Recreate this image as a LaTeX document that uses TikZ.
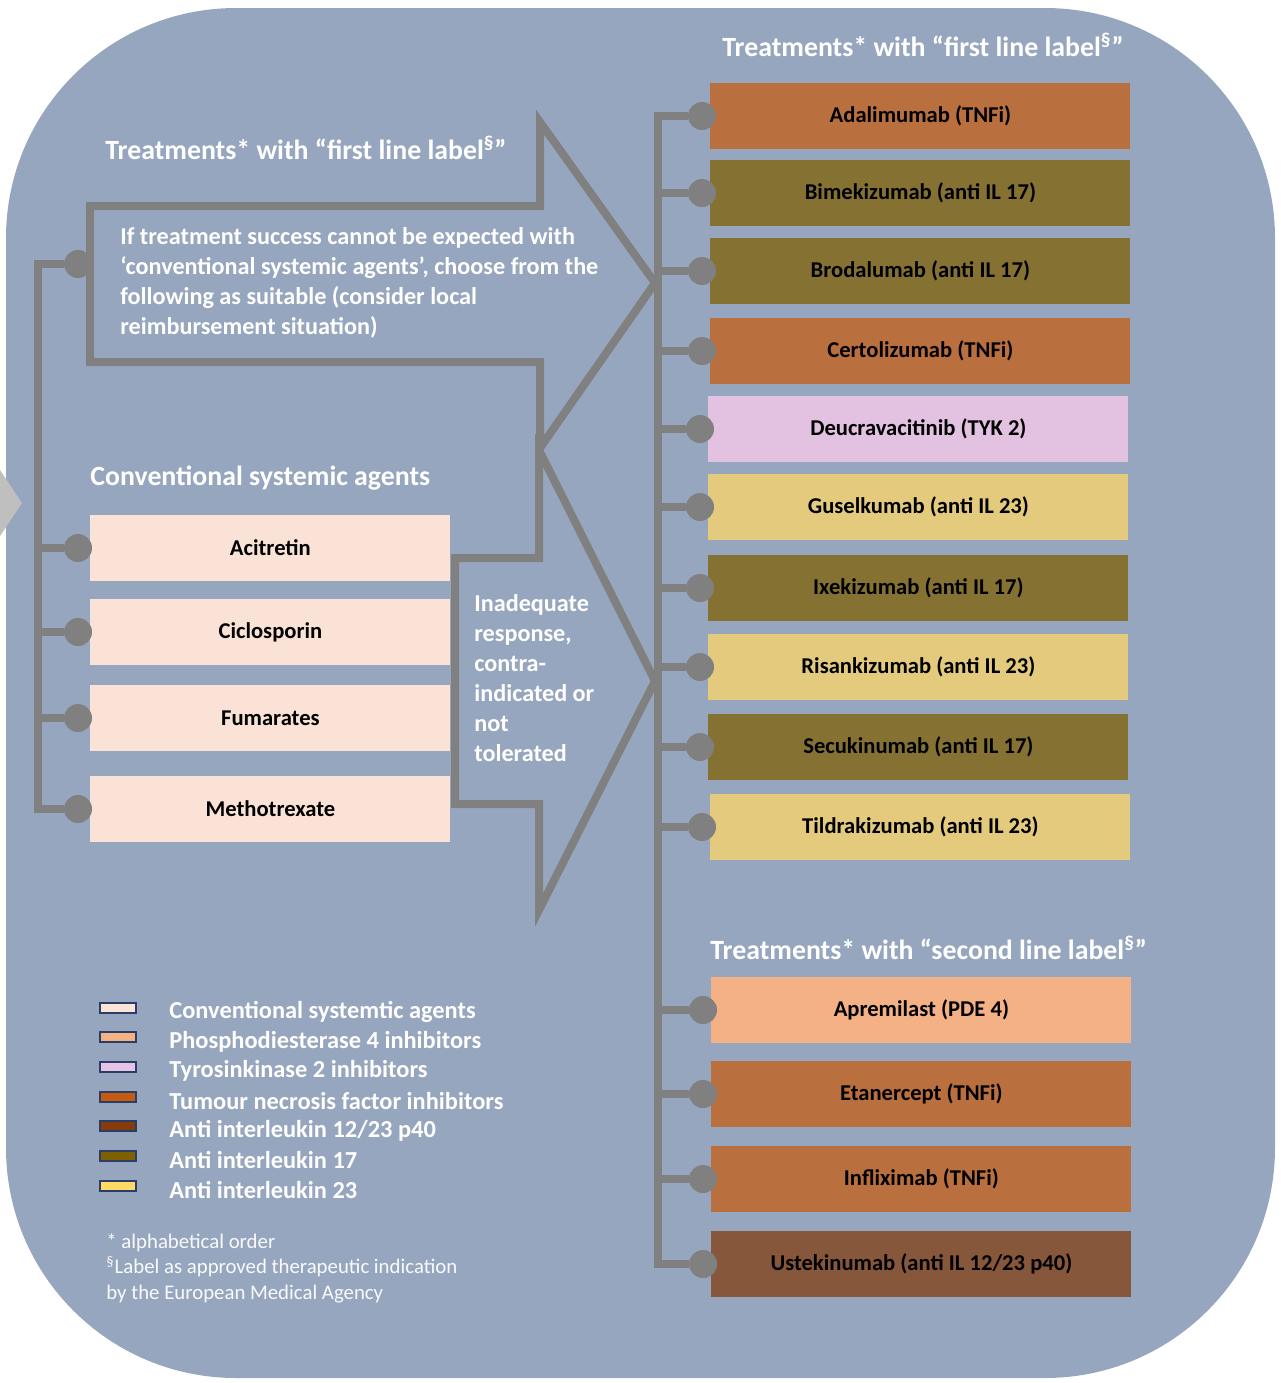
\documentclass[tikz,border=0pt]{standalone}
\usepackage{fontspec}
\setmainfont{Carlito}
\definecolor{bgblue}{HTML}{97A6BF}
\definecolor{linegray}{HTML}{808080}
\definecolor{tipgray}{HTML}{BFBFBF}
\definecolor{convfill}{HTML}{FAE3D6}
\definecolor{tnfi}{HTML}{B96F3E}
\definecolor{ilsvt}{HTML}{857232}
\definecolor{tyk}{HTML}{E2C2E0}
\definecolor{iltwt}{HTML}{E3CA7C}
\definecolor{pde}{HTML}{F3B185}
\definecolor{ilp}{HTML}{87573B}
\definecolor{swatchedge}{HTML}{2A3D66}
\definecolor{lconv}{HTML}{FCE4D6}
\definecolor{lpde}{HTML}{F4B183}
\definecolor{ltyk}{HTML}{E6C4E4}
\definecolor{ltnf}{HTML}{C55A11}
\definecolor{lilp}{HTML}{843C0C}
\definecolor{lsvt}{HTML}{7F6000}
\definecolor{ltwt}{HTML}{FFD966}
\begin{document}
\begin{tikzpicture}[
  x=0.5pt, y=-0.5pt,
  box/.style={anchor=west,inner sep=0pt,minimum height=33pt,font=\bfseries\fontsize{11.3}{13}\selectfont},
  conv/.style={box,fill=convfill,minimum width=180pt},
  drug/.style={box,minimum width=210pt},
  dot/.style={circle,fill=linegray,minimum size=14pt,inner sep=0pt},
  link/.style={draw=linegray,line width=4pt},
  flow/.style={draw=linegray,line width=4pt,line join=miter},
  title/.style={anchor=west,inner sep=0pt,text=white,font=\bfseries\fontsize{13.9}{16}\selectfont},
  note/.style={anchor=west,inner sep=0pt,align=left,text=white,font=\bfseries\fontsize{12.1}{15}\selectfont},
  swatch/.style={draw=swatchedge,line width=1pt,minimum width=18pt,minimum height=5pt,inner sep=0pt},
  legend/.style={anchor=west,inner sep=0pt,text=white,font=\bfseries\fontsize{12.2}{14}\selectfont}
]
\useasboundingbox (0,0) rectangle (1281,1383);
\fill[bgblue,rounded corners=115pt] (6,8) rectangle (1275,1378);
\fill[tipgray] (0,470) -- (22,503) -- (0,536) -- cycle;

% the two big arrows
\draw[flow] (90,206) -- (540,206) -- (540,122) -- (655,283) -- (540,448) -- (540,362) -- (90,362) -- cycle;
\draw[flow] (455,558) -- (539,558) -- (539,450) -- (655,681) -- (539,910) -- (539,804) -- (455,804) -- cycle;

\node[title] (t-left) at (105,148) {Treatments* with “first line label\textsuperscript{\S}”};
\node[note] (n-first) at (120,283) {If treatment success cannot be expected with\\
  ‘conventional systemic agents’, choose from the\\
  following as suitable (consider local\\
  reimbursement situation)};
\node[note] (n-second) at (474,678) {Inadequate\\response,\\contra-\\indicated or\\not\\tolerated};

% conventional systemic agents
\node[title] (t-conv) at (90,478) {Conventional systemic agents};
\node[conv] (acitretin) at (90,548) {Acitretin};
\node[conv] (ciclosporin) at (90,632) {Ciclosporin};
\node[conv] (fumarates) at (90,718) {Fumarates};
\node[conv] (methotrexate) at (90,809) {Methotrexate};

% first line label
\node[title] (t-first) at (722,45) {Treatments* with “first line label\textsuperscript{\S}”};
\node[drug,fill=tnfi] (adalimumab) at (710,116) {Adalimumab (TNFi)};
\node[drug,fill=ilsvt] (bimekizumab) at (710,193) {Bimekizumab (anti IL 17)};
\node[drug,fill=ilsvt] (brodalumab) at (710,271) {Brodalumab (anti IL 17)};
\node[drug,fill=tnfi] (certolizumab) at (710,351) {Certolizumab (TNFi)};
\node[drug,fill=tyk] (deucravacitinib) at (708,429) {Deucravacitinib (TYK 2)};
\node[drug,fill=iltwt] (guselkumab) at (708,507) {Guselkumab (anti IL 23)};
\node[drug,fill=ilsvt] (ixekizumab) at (708,588) {Ixekizumab (anti IL 17)};
\node[drug,fill=iltwt] (risankizumab) at (708,667) {Risankizumab (anti IL 23)};
\node[drug,fill=ilsvt] (secukinumab) at (708,747) {Secukinumab (anti IL 17)};
\node[drug,fill=iltwt] (tildrakizumab) at (710,827) {Tildrakizumab (anti IL 23)};

% second line label
\node[title] (t-second) at (710,948) {Treatments* with “second line label\textsuperscript{\S}”};
\node[drug,fill=pde] (apremilast) at (711,1010) {Apremilast (PDE 4)};
\node[drug,fill=tnfi] (etanercept) at (711,1094) {Etanercept (TNFi)};
\node[drug,fill=tnfi] (infliximab) at (711,1179) {Infliximab (TNFi)};
\node[drug,fill=ilp] (ustekinumab) at (711,1264) {Ustekinumab (anti IL 12/23 p40)};

% connectors, left side
\coordinate (ltop) at (38,264);
\coordinate (lbot) at (38,809);
\node[dot] (d-first) at (78,264) {};
\foreach \n in {acitretin,ciclosporin,fumarates,methotrexate}
  \node[dot] (d-\n) at ([xshift=-6pt]\n.west) {};
\draw[link] (d-first) -- (ltop) -- (lbot) -- (d-methotrexate);
\foreach \n in {acitretin,ciclosporin,fumarates}
  \draw[link] (ltop |- d-\n) -- (d-\n);

% connectors, right side
\coordinate (rtop) at (658,116);
\coordinate (rbot) at (658,1264);
\foreach \n in {adalimumab,bimekizumab,brodalumab,certolizumab,deucravacitinib,guselkumab,
  ixekizumab,risankizumab,secukinumab,tildrakizumab,apremilast,etanercept,infliximab,ustekinumab}
  \node[dot] (d-\n) at ([xshift=-4pt]\n.west) {};
\draw[link] (d-adalimumab) -- (rtop) -- (rbot) -- (d-ustekinumab);
\foreach \n in {bimekizumab,brodalumab,certolizumab,deucravacitinib,guselkumab,
  ixekizumab,risankizumab,secukinumab,tildrakizumab,apremilast,etanercept,infliximab}
  \draw[link] (rtop |- d-\n) -- (d-\n);

% legend
\node[swatch,fill=lconv] (s-conv) at (118,1008) {};
\node[swatch,fill=lpde] (s-pde) at (118,1037) {};
\node[swatch,fill=ltyk] (s-tyk) at (118,1067) {};
\node[swatch,fill=ltnf] (s-tnf) at (118,1097) {};
\node[swatch,fill=lilp] (s-ilp) at (118,1126) {};
\node[swatch,fill=lsvt] (s-svt) at (118,1156) {};
\node[swatch,fill=ltwt] (s-twt) at (118,1186) {};
\node[legend] (l-conv) at (169,1012) {Conventional systemtic agents};
\node[legend] (l-pde) at (169,1042) {Phosphodiesterase 4 inhibitors};
\node[legend] (l-tyk) at (169,1071) {Tyrosinkinase 2 inhibitors};
\node[legend] (l-tnf) at (169,1101) {Tumour necrosis factor inhibitors};
\node[legend] (l-ilp) at (169,1131) {Anti interleukin 12/23 p40};
\node[legend] (l-svt) at (169,1160) {Anti interleukin 17};
\node[legend] (l-twt) at (169,1190) {Anti interleukin 23};

\node[anchor=west,inner sep=0pt,align=left,text=white!94!bgblue,font=\fontsize{10.4}{12.75}\selectfont] (foot) at (106,1268)
  {* alphabetical order\\ \textsuperscript{\S}Label as approved therapeutic indication\\ by the European Medical Agency};
\end{tikzpicture}
\end{document}
